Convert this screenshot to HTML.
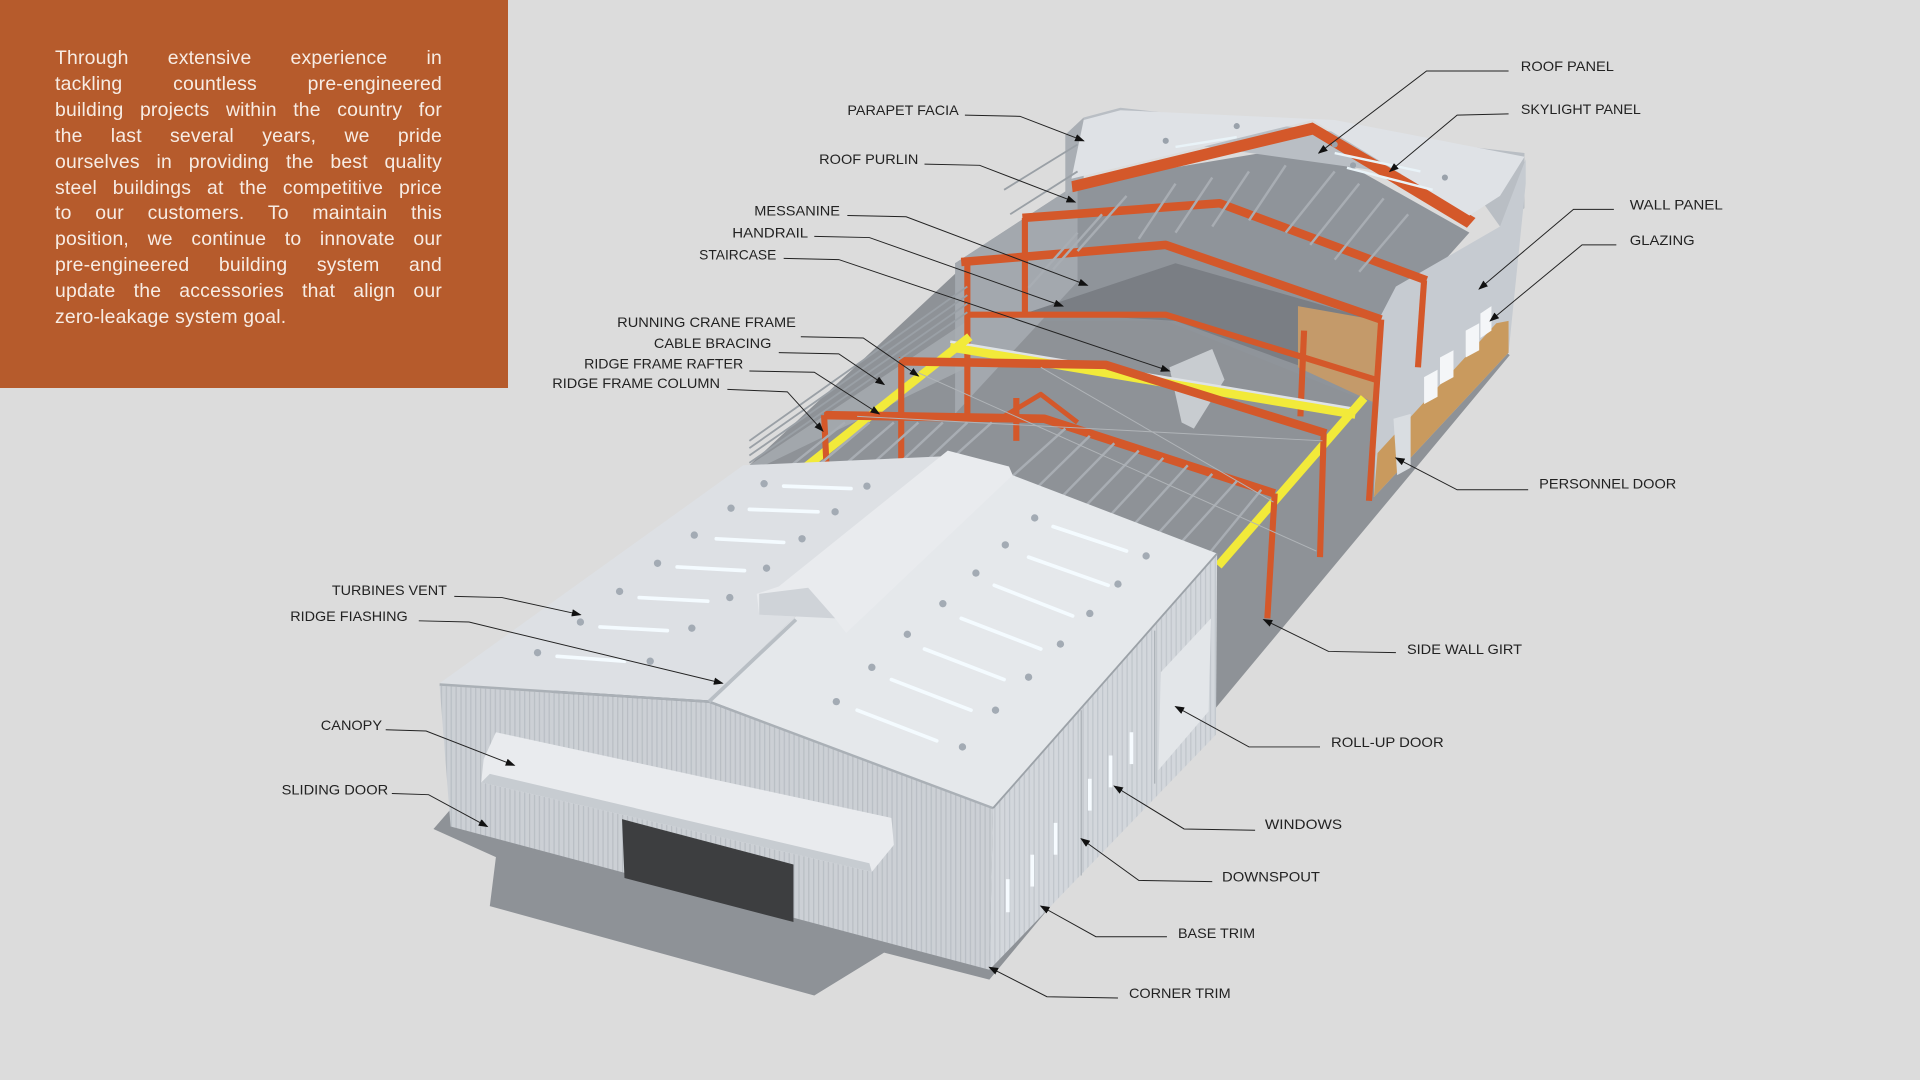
<!DOCTYPE html>
<html><head><meta charset="utf-8">
<style>
html,body{margin:0;padding:0;background:#dcdcdc;}
#wrap{position:relative;width:1920px;height:1080px;overflow:hidden;background:#dcdcdc;}
svg{position:absolute;left:0;top:0;}
#box{position:absolute;left:0;top:0;width:508px;height:388px;background:#b65b2c;}
#txt{position:absolute;left:55px;top:46px;width:387px;color:#f7ece4;font-family:"Liberation Sans",sans-serif;font-size:19.4px;line-height:25.9px;letter-spacing:0.2px;}
#txt div{text-align:justify;text-align-last:justify;white-space:nowrap;}
#txt div.l{text-align-last:left;}
</style></head><body><div id="wrap">
<div id="box"></div>
<div id="txt">
<div>Through extensive experience in</div>
<div>tackling countless pre-engineered</div>
<div>building projects within the country for</div>
<div>the last several years, we pride</div>
<div>ourselves in providing the best quality</div>
<div>steel buildings at the competitive price</div>
<div>to our customers. To maintain this</div>
<div>position, we continue to innovate our</div>
<div>pre-engineered building system and</div>
<div>update the accessories that align our</div>
<div class="l">zero-leakage system goal.</div>
</div>
<svg width="1920" height="1080" viewBox="0 0 1568 882" preserveAspectRatio="none">
<defs>
<marker id="ah" markerWidth="8" markerHeight="6" refX="7" refY="3" orient="auto" markerUnits="userSpaceOnUse"><path d="M0,0 L8,3 L0,6 z" fill="#111"/></marker>
<pattern id="vs" width="4" height="10" patternUnits="userSpaceOnUse"><rect width="4" height="10" fill="#ccd0d5"/><rect width="1" height="10" fill="#b9bec4"/></pattern>
<pattern id="vs2" width="4" height="10" patternUnits="userSpaceOnUse"><rect width="4" height="10" fill="#d3d7dc"/><rect width="1" height="10" fill="#c0c5cb"/></pattern>
</defs>
<!-- floor -->
<polygon points="354,677 405,700 400,740 665,813 722,778 808,800 1233,290 1225,284 1130,248 800,205 612,380" fill="#8e9297"/>
<!-- back building interior -->
<polygon points="780,215 880,150 1072,118 1200,190 1165,229 1128,262 1122,330 952,262 790,262" fill="#8f949a"/>
<!-- back building left wall -->
<polygon points="780,215 880,150 880,230 780,338" fill="#a3a8ae"/>
<polygon points="612,380 790,262 790,300 612,386" fill="#a7acb2" opacity="0.8"/>
<!-- back interior floor/mezzanine -->
<polygon points="840,255 960,215 1125,262 1120,320 960,262" fill="#7a7e84"/>
<polygon points="1060,250 1128,262 1125,330 1060,300" fill="#c49a6a"/>
<!-- parapet -->
<polygon points="885,96 915,88 1245,125 1245,170 1225,185 1200,150 915,110 885,118" fill="#b9bec4"/>
<polygon points="870,110 885,96 885,148 870,160" fill="#a9aeb4"/>
<!-- roof of back building -->
<polygon points="875,148 1072,100 1205,178 1198,186 1072,110 876,157" fill="#d4582a"/>
<polygon points="875,146 1072,98 1200,176 1225,160 1245,128 1090,98 915,90 885,98" fill="#dfe2e6"/>
<g stroke="#e9f3f8" stroke-width="2"><line x1="1090" y1="125" x2="1160" y2="140"/><line x1="1100" y1="137" x2="1170" y2="155"/><line x1="960" y1="120" x2="1010" y2="112"/></g>
<g fill="#9aa2ab"><circle cx="952" cy="115" r="2.5"/><circle cx="1010" cy="103" r="2.5"/><circle cx="1090" cy="118" r="2.5"/><circle cx="1180" cy="145" r="2.5"/><circle cx="1105" cy="135" r="2.5"/></g>
<!-- back right wall -->
<polygon points="1140,234 1225,185 1246,130 1246,150 1232,288 1122,406 1127,259" fill="#c6cbd1"/>
<polygon points="1125,370 1222,264 1232,262 1232,288 1122,406" fill="#c99a5e"/>
<g fill="#f4f6f8"><polygon points="1163,308 1174,302 1174,324 1163,330"/><polygon points="1176,292 1187,286 1187,308 1176,314"/><polygon points="1197,270 1208,264 1208,286 1197,292"/><polygon points="1209,256 1218,250 1218,270 1209,276"/></g>
<polygon points="1138,342 1152,338 1152,382 1141,388" fill="#d9dde1"/>
<!-- frames -->
<g stroke="#d4582a" stroke-width="7" fill="none" stroke-linejoin="round">
<polyline points="835,178 996,166 1165,229"/>
<polyline points="785,214 952,200 1128,261"/>
<polyline points="792,257 952,257 1123,310" stroke-width="5"/>
</g>
<g stroke="#d4582a" stroke-width="5">
<line x1="837" y1="178" x2="837" y2="256"/><line x1="1163" y1="229" x2="1158" y2="300"/>
<line x1="790" y1="214" x2="790" y2="338"/><line x1="1128" y1="261" x2="1118" y2="409"/>
<line x1="1065" y1="270" x2="1062" y2="340"/>
</g>
<!-- staircase -->
<polygon points="955,300 990,285 1000,310 975,350 965,345" fill="#c8ccd0"/>
<!-- crane bridge -->
<line x1="776" y1="283" x2="1107" y2="338" stroke="#f2ea3a" stroke-width="8"/>
<line x1="776" y1="279" x2="1107" y2="334" stroke="#dfe3e6" stroke-width="2"/>
<!-- left & right runway -->
<line x1="792" y1="275" x2="656" y2="383" stroke="#f2ea3a" stroke-width="7"/>
<line x1="1114" y1="325" x2="995" y2="462" stroke="#f2ea3a" stroke-width="7"/>
<!-- near frames -->
<g stroke="#d4582a" stroke-width="7" fill="none" stroke-linejoin="round">
<polyline points="734,295 903,298 1083,354"/>
<polyline points="673,339 853,342 1041,403"/>
<polyline points="820,340 850,322 880,345" stroke-width="4"/>
</g>
<g stroke="#d4582a" stroke-width="5">
<line x1="736" y1="297" x2="736" y2="384"/><line x1="1081" y1="354" x2="1078" y2="455"/>
<line x1="673" y1="339" x2="675" y2="381"/><line x1="1041" y1="403" x2="1035" y2="505"/>
<line x1="830" y1="325" x2="830" y2="360"/>
</g>
<!-- purlins -->
<g stroke="#a8adb3" stroke-width="2">
<line x1="690" y1="345" x2="640" y2="385"/><line x1="710" y1="345" x2="660" y2="387"/><line x1="730" y1="345" x2="680" y2="388"/><line x1="750" y1="345" x2="700" y2="390"/><line x1="770" y1="345" x2="720" y2="392"/><line x1="790" y1="345" x2="740" y2="392"/><line x1="810" y1="345" x2="760" y2="390"/>
<line x1="870" y1="350" x2="820" y2="395"/><line x1="890" y1="356" x2="840" y2="405"/><line x1="910" y1="362" x2="860" y2="413"/><line x1="930" y1="368" x2="880" y2="420"/><line x1="950" y1="374" x2="900" y2="428"/><line x1="970" y1="380" x2="920" y2="435"/><line x1="990" y1="387" x2="940" y2="442"/><line x1="1010" y1="393" x2="960" y2="448"/><line x1="1030" y1="400" x2="985" y2="455"/>
<line x1="880" y1="190" x2="840" y2="235"/><line x1="900" y1="175" x2="860" y2="220"/><line x1="920" y1="160" x2="880" y2="205"/><line x1="1090" y1="140" x2="1050" y2="190"/><line x1="1110" y1="150" x2="1070" y2="200"/><line x1="1130" y1="162" x2="1090" y2="212"/><line x1="1150" y1="175" x2="1110" y2="222"/>
<line x1="960" y1="150" x2="930" y2="195"/><line x1="990" y1="145" x2="960" y2="190"/><line x1="1020" y1="140" x2="990" y2="185"/><line x1="1050" y1="135" x2="1020" y2="180"/>
</g>
<g stroke="#9aa0a6" stroke-width="1.5">
<line x1="612" y1="378" x2="790" y2="255"/><line x1="612" y1="372" x2="790" y2="248"/><line x1="612" y1="366" x2="790" y2="241"/><line x1="612" y1="360" x2="790" y2="234"/>
<line x1="820" y1="155" x2="880" y2="118"/><line x1="825" y1="175" x2="880" y2="140"/>
</g>
<g stroke="#b0b4b8" stroke-width="0.8"><line x1="740" y1="300" x2="1075" y2="450"/><line x1="700" y1="340" x2="1080" y2="360"/><line x1="850" y1="300" x2="1040" y2="410"/></g>
<!-- front building -->
<polygon points="359,558 607,380 785,372 579,572" fill="#dde0e4"/>
<polygon points="579,572 785,372 994,452 811,660" fill="#e5e8eb"/>
<polygon points="359,560 579,574 811,660 808,792 368,675" fill="url(#vs)"/>
<polygon points="811,660 994,452 993,600 808,792" fill="url(#vs2)"/>
<line x1="359" y1="559" x2="579" y2="573" stroke="#aab0b6" stroke-width="2"/>
<line x1="579" y1="573" x2="811" y2="660" stroke="#aab0b6" stroke-width="2"/>
<line x1="579" y1="573" x2="650" y2="506" stroke="#b8bec4" stroke-width="3"/>
<line x1="811" y1="660" x2="994" y2="452" stroke="#9ca2a8" stroke-width="1.5"/>
<!-- ridge monitor -->
<polygon points="618,485 636,479 774,368 824,381 827,388 691,517 682,505 620,502" fill="#e9ebee"/>
<polygon points="620,485 660,480 682,505 620,502" fill="#cfd3d8"/>
<!-- skylights & vents -->
<g stroke="#f4fbff" stroke-width="3" stroke-linecap="round">
<line x1="455" y1="536" x2="510" y2="540"/><line x1="490" y1="512" x2="545" y2="515"/><line x1="522" y1="488" x2="578" y2="491"/><line x1="553" y1="463" x2="608" y2="466"/><line x1="585" y1="440" x2="640" y2="443"/><line x1="612" y1="416" x2="668" y2="418"/><line x1="640" y1="397" x2="695" y2="399"/>
<line x1="700" y1="580" x2="765" y2="605"/><line x1="728" y1="555" x2="793" y2="580"/><line x1="755" y1="530" x2="820" y2="555"/><line x1="785" y1="505" x2="850" y2="530"/><line x1="812" y1="478" x2="876" y2="503"/><line x1="840" y1="455" x2="905" y2="478"/><line x1="860" y1="430" x2="920" y2="450"/>
</g>
<g fill="#a3abb4">
<circle cx="439" cy="533" r="3"/><circle cx="531" cy="540" r="3"/><circle cx="474" cy="508" r="3"/><circle cx="565" cy="513" r="3"/><circle cx="506" cy="483" r="3"/><circle cx="596" cy="488" r="3"/><circle cx="537" cy="460" r="3"/><circle cx="626" cy="464" r="3"/><circle cx="567" cy="437" r="3"/><circle cx="655" cy="440" r="3"/><circle cx="597" cy="415" r="3"/><circle cx="682" cy="418" r="3"/><circle cx="624" cy="395" r="3"/><circle cx="708" cy="397" r="3"/>
<circle cx="683" cy="573" r="3"/><circle cx="786" cy="610" r="3"/><circle cx="712" cy="545" r="3"/><circle cx="813" cy="580" r="3"/><circle cx="741" cy="518" r="3"/><circle cx="840" cy="553" r="3"/><circle cx="770" cy="493" r="3"/><circle cx="866" cy="526" r="3"/><circle cx="797" cy="468" r="3"/><circle cx="890" cy="501" r="3"/><circle cx="821" cy="445" r="3"/><circle cx="913" cy="477" r="3"/><circle cx="845" cy="423" r="3"/><circle cx="936" cy="454" r="3"/>
</g>
<!-- door opening -->
<polygon points="508,669 648,706 648,753 510,717" fill="#3d3e40"/>
<!-- canopy -->
<polygon points="393,639 395,620 405,598 728,668 730,690 712,712" fill="#e9ebee"/>
<polygon points="393,639 712,712 710,705 400,632" fill="#c7ccd1"/>
<!-- side door + windows -->
<polygon points="948,549 989,505 987,581 946,629" fill="#e3e6e9"/>
<g stroke="#aab0b6" stroke-width="1"><line x1="883" y1="580" x2="883" y2="715"/><line x1="943" y1="515" x2="943" y2="640"/></g>
<g stroke="#f6fbff" stroke-width="3"><line x1="823" y1="718" x2="823" y2="745"/><line x1="843" y1="698" x2="843" y2="724"/><line x1="862" y1="672" x2="862" y2="698"/><line x1="890" y1="636" x2="890" y2="662"/><line x1="907" y1="617" x2="907" y2="643"/><line x1="924" y1="598" x2="924" y2="624"/></g>
<!-- labels -->
<g fill="none" stroke="#222" stroke-width="0.8" marker-end="url(#ah)">
<polyline points="788,94 833,95 885,115"/>
<polyline points="755,134 800,135 878,165"/>
<polyline points="692,176 740,177 888,233"/>
<polyline points="665,193 710,194 868,250"/>
<polyline points="640,211 685,212 955,303"/>
<polyline points="654,275 705,276 750,307"/>
<polyline points="636,288 685,289 722,314"/>
<polyline points="612,303 665,304 718,338"/>
<polyline points="594,318 643,320 672,352"/>
<polyline points="371,487 410,488 474,502"/>
<polyline points="342,507 383,508 590,558"/>
<polyline points="315,596 348,597 420,625"/>
<polyline points="320,648 350,649 398,675"/>
<polyline points="1232,58 1165,58 1077,125"/>
<polyline points="1232,93 1190,94 1135,140"/>
<polyline points="1318,171 1285,171 1208,236"/>
<polyline points="1320,200 1292,200 1217,262"/>
<polyline points="1248,400 1190,400 1140,374"/>
<polyline points="1140,533 1085,532 1032,506"/>
<polyline points="1078,610 1020,610 960,577"/>
<polyline points="1025,678 967,677 910,642"/>
<polyline points="990,720 930,719 883,685"/>
<polyline points="953,765 895,765 850,740"/>
<polyline points="913,815 855,814 808,790"/>
</g>
<g font-family="Liberation Sans, sans-serif" font-size="11.5" fill="#222">
<text x="692" y="94" textLength="91" lengthAdjust="spacingAndGlyphs">PARAPET FACIA</text>
<text x="669" y="134" textLength="81" lengthAdjust="spacingAndGlyphs">ROOF PURLIN</text>
<text x="616" y="176" textLength="70" lengthAdjust="spacingAndGlyphs">MESSANINE</text>
<text x="598" y="194" textLength="62" lengthAdjust="spacingAndGlyphs">HANDRAIL</text>
<text x="571" y="212" textLength="63" lengthAdjust="spacingAndGlyphs">STAIRCASE</text>
<text x="504" y="267" textLength="146" lengthAdjust="spacingAndGlyphs">RUNNING CRANE FRAME</text>
<text x="534" y="284" textLength="96" lengthAdjust="spacingAndGlyphs">CABLE BRACING</text>
<text x="477" y="301" textLength="130" lengthAdjust="spacingAndGlyphs">RIDGE FRAME RAFTER</text>
<text x="451" y="317" textLength="137" lengthAdjust="spacingAndGlyphs">RIDGE FRAME COLUMN</text>
<text x="271" y="486" textLength="94" lengthAdjust="spacingAndGlyphs">TURBINES VENT</text>
<text x="237" y="507" textLength="96" lengthAdjust="spacingAndGlyphs">RIDGE FIASHING</text>
<text x="262" y="596" textLength="50" lengthAdjust="spacingAndGlyphs">CANOPY</text>
<text x="230" y="649" textLength="87" lengthAdjust="spacingAndGlyphs">SLIDING DOOR</text>
<text x="1242" y="58" textLength="76" lengthAdjust="spacingAndGlyphs">ROOF PANEL</text>
<text x="1242" y="93" textLength="98" lengthAdjust="spacingAndGlyphs">SKYLIGHT PANEL</text>
<text x="1331" y="171" textLength="76" lengthAdjust="spacingAndGlyphs">WALL PANEL</text>
<text x="1331" y="200" textLength="53" lengthAdjust="spacingAndGlyphs">GLAZING</text>
<text x="1257" y="399" textLength="112" lengthAdjust="spacingAndGlyphs">PERSONNEL DOOR</text>
<text x="1149" y="534" textLength="94" lengthAdjust="spacingAndGlyphs">SIDE WALL GIRT</text>
<text x="1087" y="610" textLength="92" lengthAdjust="spacingAndGlyphs">ROLL-UP DOOR</text>
<text x="1033" y="677" textLength="63" lengthAdjust="spacingAndGlyphs">WINDOWS</text>
<text x="998" y="720" textLength="80" lengthAdjust="spacingAndGlyphs">DOWNSPOUT</text>
<text x="962" y="766" textLength="63" lengthAdjust="spacingAndGlyphs">BASE TRIM</text>
<text x="922" y="815" textLength="83" lengthAdjust="spacingAndGlyphs">CORNER TRIM</text>
</g>
</svg>
</div></body></html>
